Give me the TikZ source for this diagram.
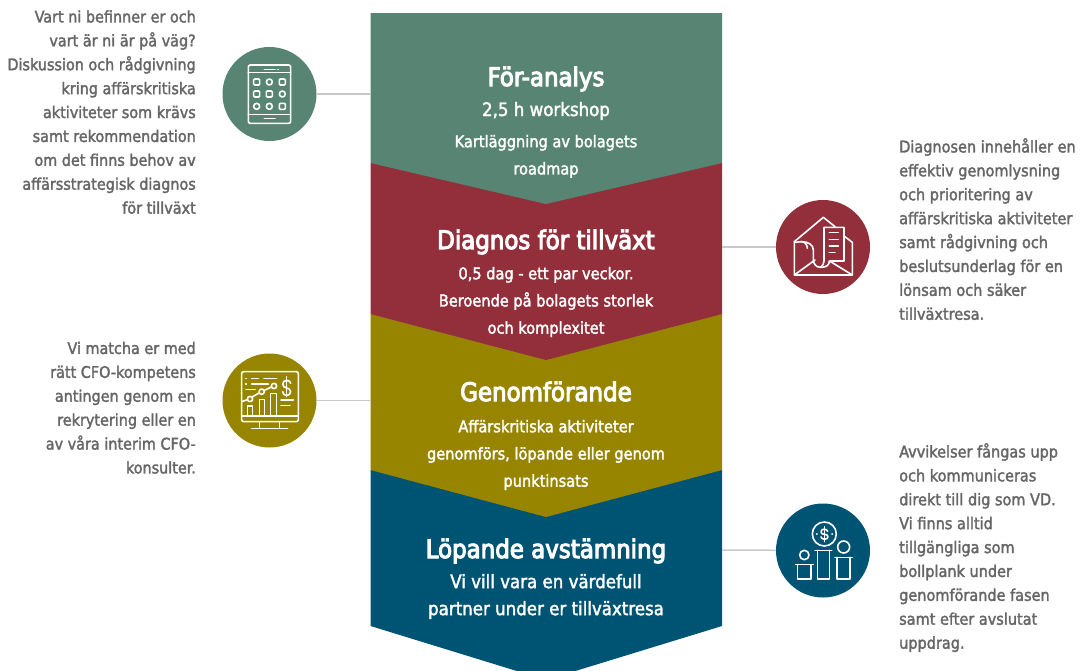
\documentclass[tikz,border=0pt]{standalone}
\usepackage{fontspec}
\setmainfont{DejaVu Sans Condensed}[FakeBold=2]
\definecolor{cgreen}{HTML}{578473}
\definecolor{cred}{HTML}{922F3B}
\definecolor{colive}{HTML}{978500}
\definecolor{cblue}{HTML}{005473}
\definecolor{cgrey}{HTML}{666666}
\definecolor{cline}{HTML}{C8C8C8}
\tikzset{
  x=1pt,y=-1pt,
  disc/.style={circle,minimum size=94pt,inner sep=0pt,fill=#1},
  link/.style={draw=cline,line width=1.5pt},
  ttl/.style={text=white,inner sep=0pt,anchor=base,font=\fontsize{25.5}{26}\selectfont\addfontfeature{FakeBold=4}},
  bod/.style={text=white,inner sep=0pt,anchor=north,align=center,font=\fontsize{16.2}{27.2}\selectfont},
  bodb/.style={text=white,inner sep=0pt,anchor=north,align=center,font=\fontsize{18.5}{27}\selectfont},
  lefttxt/.style={text=cgrey,inner sep=0pt,anchor=north east,align=right,font=\fontsize{16}{23.9}\selectfont},
  righttxt/.style={text=cgrey,inner sep=0pt,anchor=north west,align=left,font=\fontsize{16.1}{23.9}\selectfont},
  ico/.style={draw=white,line width=1.6pt,line cap=round,line join=round},
}
\begin{document}
\begin{tikzpicture}
\useasboundingbox (0,0) rectangle (1083,670);
% chevrons (bottom up)
\fill[cblue] (370.5,470) -- (546,490) -- (722,470) -- (722,626) -- (546,680) -- (370.5,626) -- cycle;
\fill[colive] (370.5,314) -- (546,335) -- (722,314) -- (722,470) -- (546,517) -- (370.5,470) -- cycle;
\fill[cred] (370.5,163) -- (546,180) -- (722,163) -- (722,314) -- (546,360) -- (370.5,314) -- cycle;
\fill[cgreen] (370.5,13) -- (722,13) -- (722,163) -- (546,204) -- (370.5,163) -- cycle;
\useasboundingbox (0,0) rectangle (1083,670);
% anchors
\coordinate (eg) at (370.5,94);
\coordinate (er) at (722,247);
\coordinate (eo) at (370.5,400.5);
\coordinate (eb) at (722,550);
% discs
\node[disc=cgreen] (dg) at (269.5,94) {};
\node[disc=cred] (dr) at (823,247) {};
\node[disc=colive] (do) at (269.5,400.5) {};
\node[disc=cblue] (db) at (823,550.5) {};
\draw[link] (dg) -- (eg);
\draw[link] (dr) -- (er);
\draw[link] (do) -- (eo);
\draw[link] (db) -- (eb);
% centre texts
\node[ttl] (t1) at (546,86) {För-analys};
\node[bodb,anchor=base] (s1) at (546,116) {2,5 h workshop};
\node[bod] (b1) at (546,128) {\strut Kartläggning av bolagets\\roadmap};
\node[ttl] (t2) at (546,249) {Diagnos för tillväxt};
\node[bod] (b2) at (546,260) {\strut 0,5 dag - ett par veckor.\\Beroende på bolagets storlek\\och komplexitet};
\node[ttl] (t3) at (546,401) {Genomförande};
\node[bod] (b3) at (546,413) {\strut Affärskritiska aktiviteter\\genomförs, löpande eller genom\\punktinsats};
\node[ttl] (t4) at (546,558) {Löpande avstämning};
\node[bodb] (b4) at (546,569) {\strut Vi vill vara en värdefull\\partner under er tillväxtresa};
% side texts
\node[lefttxt] (l1) at (196,5.5) {\strut Vart ni befinner er och\\vart är ni är på väg?\\Diskussion och rådgivning\\kring affärskritiska\\aktiviteter som krävs\\samt rekommendation\\om det finns behov av\\affärsstrategisk diagnos\\för tillväxt};
\node[lefttxt] (l2) at (196,337) {\strut Vi matcha er med\\rätt CFO-kompetens\\antingen genom en\\rekrytering eller en\\av våra interim CFO-\\konsulter.};
\node[righttxt] (r1) at (899,135.5) {\strut Diagnosen innehåller en\\effektiv genomlysning\\och prioritering av\\affärskritiska aktiviteter\\samt rådgivning och\\beslutsunderlag för en\\lönsam och säker\\tillväxtresa.};
\node[righttxt] (r2) at (899,440.5) {\strut Avvikelser fångas upp\\och kommuniceras\\direkt till dig som VD.\\Vi finns alltid\\tillgängliga som\\bollplank under\\genomförande fasen\\samt efter avslutat\\uppdrag.};
% icon tablet
\begin{scope}[shift={(200,30)},x=0.3333pt,y=-0.3333pt,ico]
\draw[rounded corners=2pt] (145,105) rectangle (272,280);
\draw (145,127) -- (272,127) (145,253) -- (272,253);
\draw (193,118) -- (225,118) (233,118) -- (235,118) (193,266) -- (225,266);
\foreach \p in {(170,156),(247,156),(170,192),(208,192),(247,229)}
  \draw[rounded corners=1pt] \p ++(-9,-9) rectangle ++(18,18);
\foreach \p in {(208,156),(247,192),(170,229),(208,229)}
  \draw \p circle (9);
\end{scope}
% icon envelope
\begin{scope}[shift={(710,180)},x=0.3333pt,y=-0.3333pt,ico]
\draw (375,140) -- (340,112) -- (253,185) -- (253,285) -- (427,285) -- (427,187) -- (402,168);
\draw (253,285) -- (315,240) (427,285) -- (362,245);
\draw (342,142) -- (402,142) -- (402,243) -- (358,243) .. controls (358,255) and (350,262) .. (332,262) .. controls (318,262) and (310,252) .. (310,238) -- (310,210) .. controls (310,195) and (295,185) .. (275,185) .. controls (262,185) and (256,190) .. (253,185);
\draw (342,142) -- (342,243) .. controls (342,250) and (338,258) .. (332,262);
\draw (275,185) .. controls (285,185) and (292,195) .. (292,205);
\draw (358,158) -- (385,158) (358,178) -- (385,178) (358,198) -- (385,198) (358,218) -- (375,218);
\end{scope}
% icon monitor
\begin{scope}[shift={(200,340)},x=0.3333pt,y=-0.3333pt,ico]
\draw[rounded corners=2pt] (125,95) rectangle (295,245);
\draw (125,228) -- (295,228);
\draw (178,245) -- (178,265) (238,245) -- (238,265) (155,266) -- (263,266);
\draw (142,228) -- (142,198) -- (158,198) -- (158,228);
\draw (178,228) -- (178,178) -- (193,178) -- (193,228);
\draw (212,228) -- (212,160) -- (229,160) -- (229,228);
\draw (125,185) -- (142,179) (158,170) -- (177,159) (193,151) -- (214,141);
\draw (150,177) circle (8) (185,155) circle (8) (222,138) circle (8);
\draw (137,115) -- (139,115) (155,115) -- (175,115) (192,115) -- (230,115);
\draw (137,132) -- (139,132) (155,132) -- (205,132) (138,148) -- (165,148);
\draw (272,130) .. controls (272,118) and (248,118) .. (248,132) .. controls (248,148) and (272,140) .. (272,155) .. controls (272,170) and (248,170) .. (248,155);
\draw (260,110) -- (260,170);
\draw (243,180) -- (280,180) (243,197) -- (270,197);
\end{scope}
% icon pedestals
\begin{scope}[shift={(710,490)},x=0.3333pt,y=-0.3333pt,ico]
\draw (343,132) circle (36) (401,171) circle (18) (283,195) circle (14);
\draw (257,224) -- (310,224) (263,224) -- (263,267) -- (303,267) -- (303,224);
\draw (315,181) -- (365,181) (322,181) -- (322,267) -- (358,267) -- (358,181);
\draw (375,202) -- (427,202) (381,202) -- (381,267) -- (420,267) -- (420,202);
\draw (353,124) .. controls (351,115) and (333,115) .. (333,126) .. controls (333,137) and (354,129) .. (354,140) .. controls (354,150) and (335,150) .. (333,141);
\draw (343,110) -- (343,155);
\draw (320,132) -- (321,132) (366,132) -- (367,132);
\end{scope}
\end{tikzpicture}
\end{document}
